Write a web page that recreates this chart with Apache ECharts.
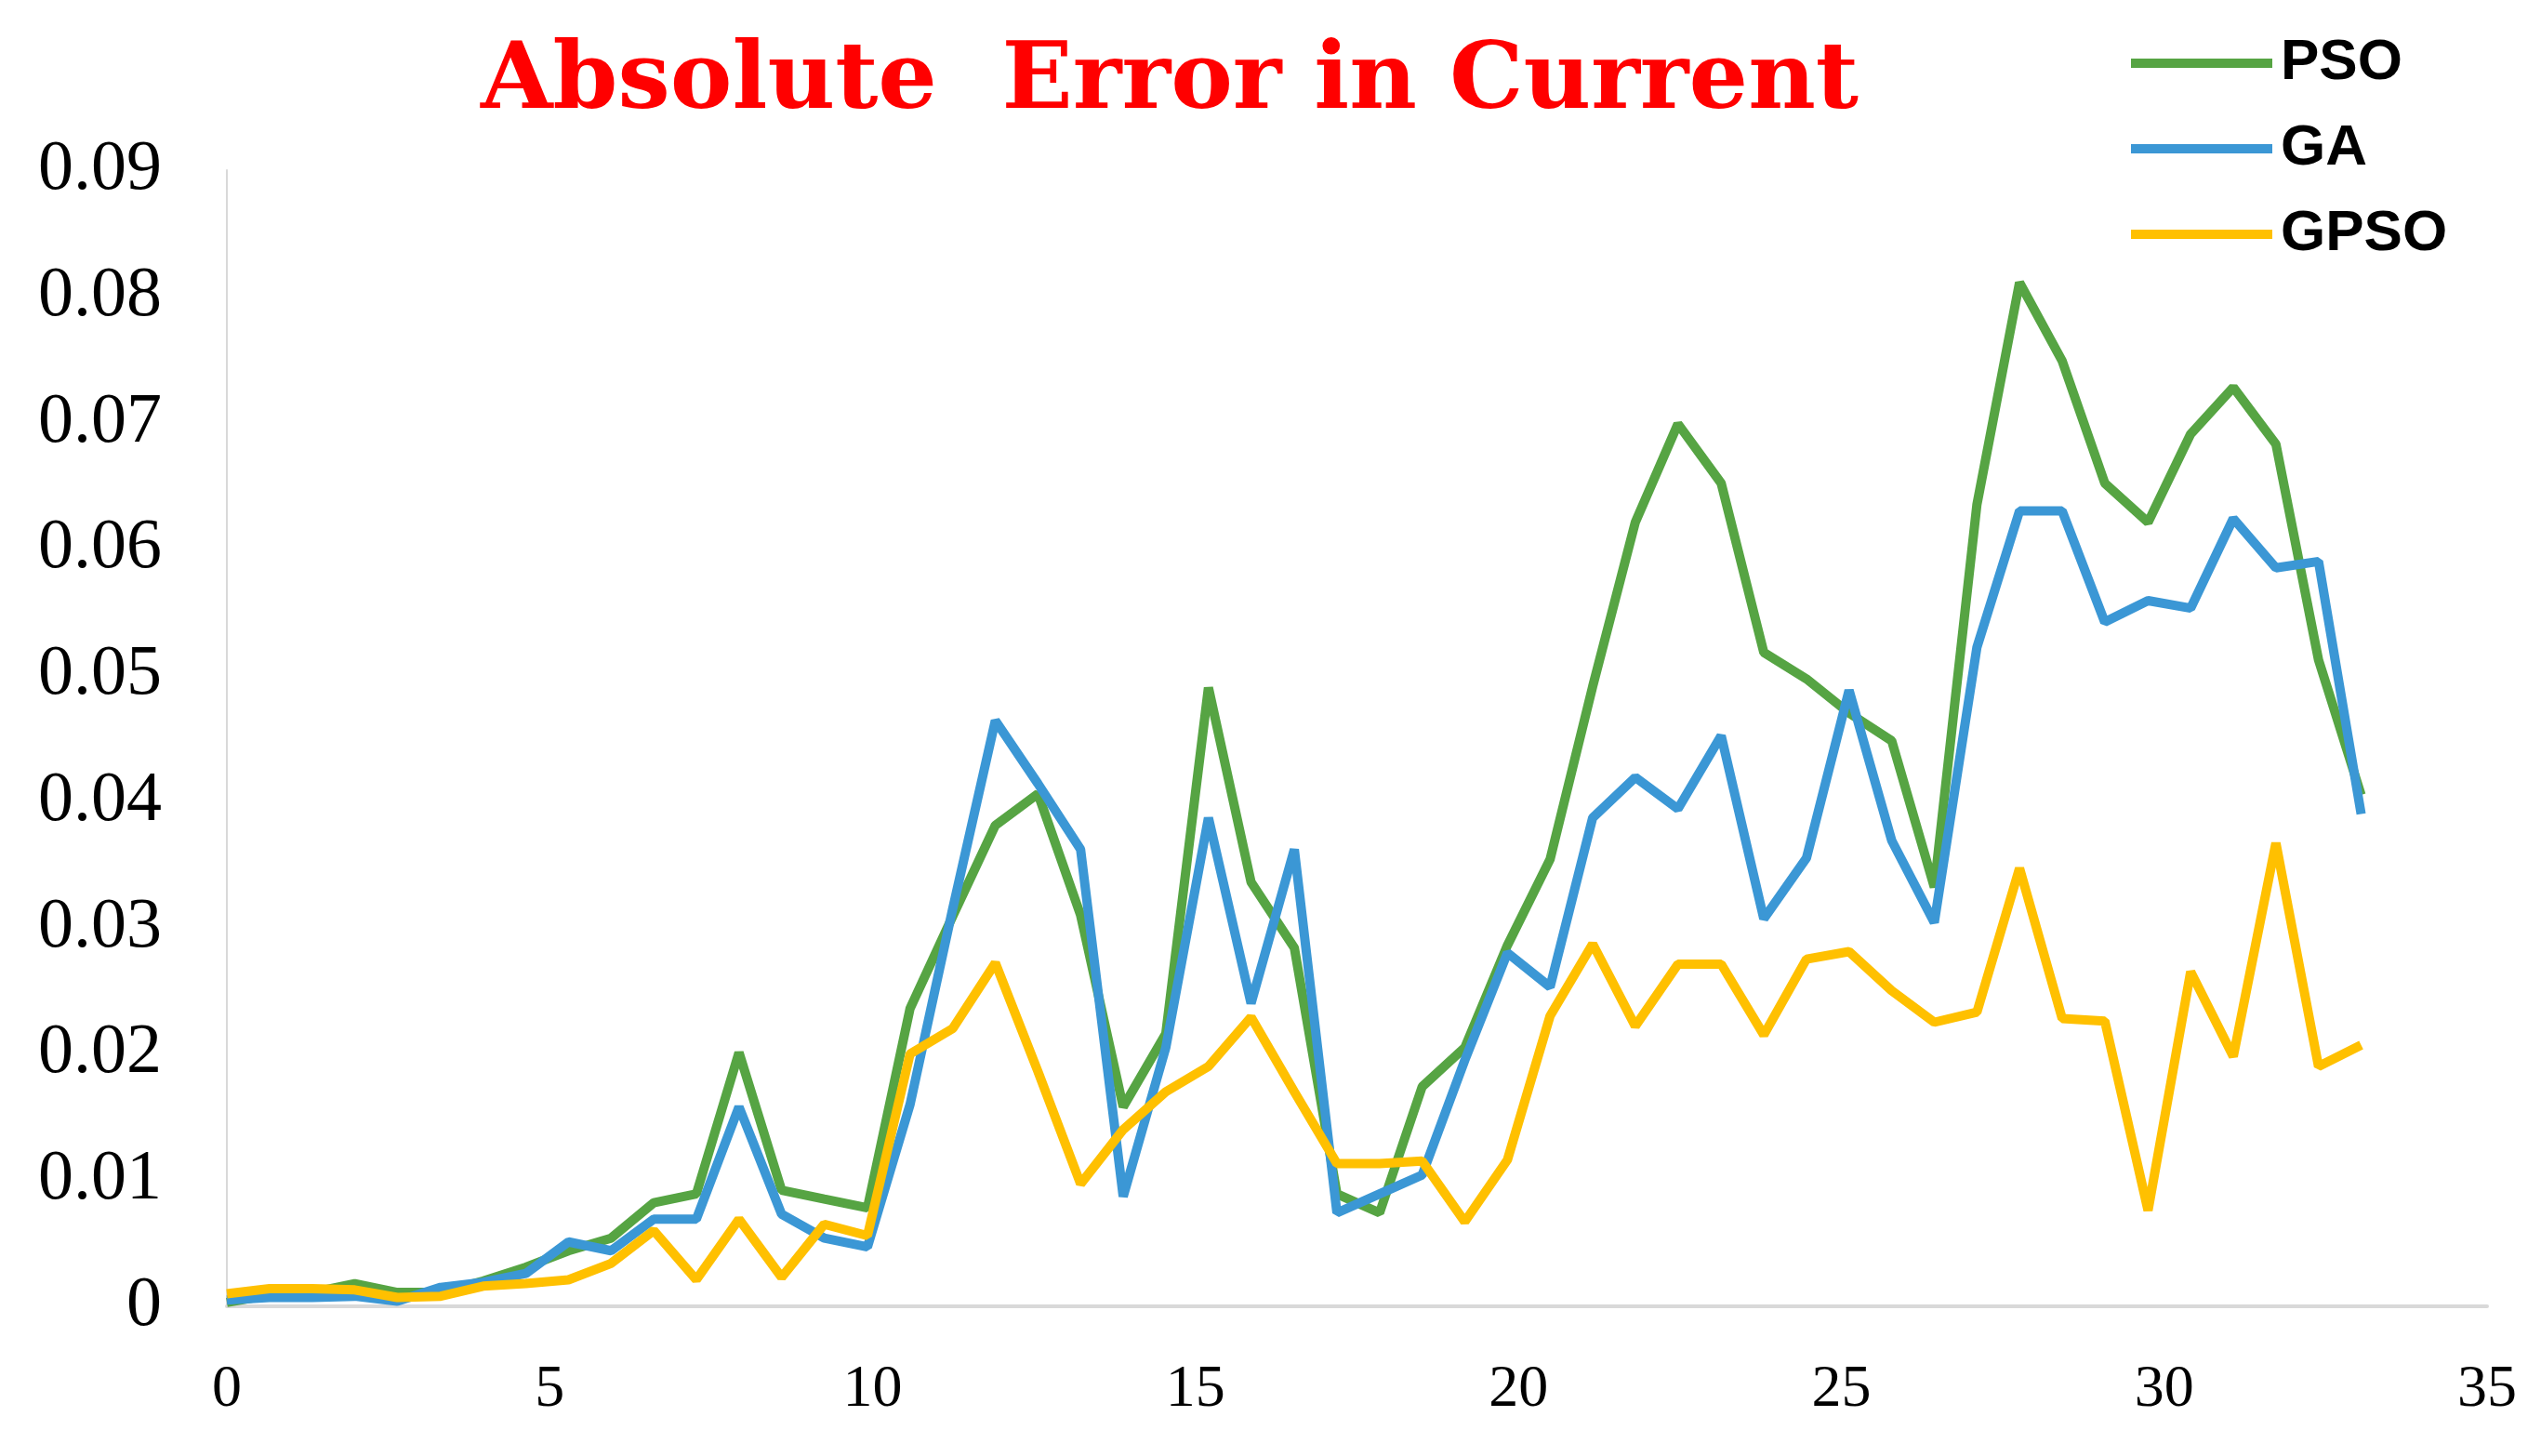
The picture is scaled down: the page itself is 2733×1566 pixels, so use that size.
<!DOCTYPE html>
<html>
<head>
<meta charset="utf-8">
<title>Absolute Error in Current</title>
<script src="https://cdn.jsdelivr.net/npm/echarts@6/dist/echarts.min.js"></script>
<style>
  html, body { margin: 0; padding: 0; background: #fff; }
  #main { width: 2733px; height: 1566px; }
</style>
</head>
<body>
<div id="main"></div>
<script>
var chartDom = document.getElementById('main');
var myChart = echarts.init(chartDom);
var option;

// sample positions along the x axis
var xVals = [0, 0.66, 1.32, 1.98, 2.64, 3.31, 3.97, 4.63, 5.29, 5.95,
  6.61, 7.27, 7.93, 8.59, 9.25, 9.92, 10.58, 11.24, 11.90, 12.56,
  13.22, 13.88, 14.54, 15.20, 15.86, 16.53, 17.19, 17.85, 18.51, 19.17,
  19.83, 20.49, 21.15, 21.81, 22.47, 23.14, 23.80, 24.46, 25.12, 25.78,
  26.44, 27.10, 27.76, 28.42, 29.08, 29.75, 30.41, 31.07, 31.73, 32.39, 33.05];

var pso = [0.0003, 0.0009, 0.0011, 0.0018, 0.0011, 0.0011, 0.0020, 0.0031, 0.0044, 0.0054,
  0.0082, 0.0089, 0.0201, 0.0092, 0.0085, 0.0078, 0.0236, 0.0309, 0.0381, 0.0406,
  0.0310, 0.0158, 0.0216, 0.0490, 0.0336, 0.0284, 0.0089, 0.0074, 0.0174, 0.0205,
  0.0286, 0.0354, 0.0491, 0.0621, 0.0699, 0.0652, 0.0518, 0.0497, 0.0470, 0.0448,
  0.0332, 0.0635, 0.0811, 0.0749, 0.0652, 0.0621, 0.0691, 0.0728, 0.0683, 0.0512, 0.0405];

var ga = [0.0005, 0.0007, 0.0007, 0.0008, 0.0004, 0.0015, 0.0019, 0.0026, 0.0051, 0.0044,
  0.0069, 0.0069, 0.0158, 0.0073, 0.0054, 0.0047, 0.0160, 0.0315, 0.0464, 0.0414,
  0.0362, 0.0087, 0.0205, 0.0387, 0.0240, 0.0362, 0.0074, 0.0089, 0.0104, 0.0195,
  0.0280, 0.0253, 0.0387, 0.0419, 0.0394, 0.0452, 0.0307, 0.0355, 0.0488, 0.0369,
  0.0304, 0.0522, 0.0630, 0.0630, 0.0542, 0.0559, 0.0553, 0.0624, 0.0585, 0.0590, 0.0390];

var gpso = [0.0010, 0.0014, 0.0014, 0.0013, 0.0007, 0.0008, 0.0016, 0.0018, 0.0021, 0.0034,
  0.0060, 0.0021, 0.0069, 0.0023, 0.0065, 0.0056, 0.0200, 0.0220, 0.0272, 0.0186,
  0.0097, 0.0140, 0.0170, 0.0190, 0.0229, 0.0170, 0.0113, 0.0113, 0.0115, 0.0067,
  0.0116, 0.0230, 0.0287, 0.0222, 0.0271, 0.0271, 0.0215, 0.0275, 0.0281, 0.0250,
  0.0225, 0.0233, 0.0347, 0.0228, 0.0226, 0.0076, 0.0265, 0.0198, 0.0367, 0.0190, 0.0207];

function pairs(ys) {
  return xVals.map(function (x, i) { return [x, ys[i]]; });
}

option = {
  backgroundColor: '#fff',
  animation: false,
  title: {
    text: 'Absolute  Error in Current',
    left: 1253,
    top: 35,
    textAlign: 'center',
    textStyle: {
      fontFamily: 'DejaVu Serif',
      fontWeight: 'bold',
      fontSize: 100,
      color: '#ff0000'
    }
  },
  legend: {
    orient: 'vertical',
    left: 2287,
    top: 32,
    icon: 'rect',
    itemWidth: 152,
    itemHeight: 10,
    itemGap: 30,
    textStyle: {
      fontFamily: 'Liberation Sans',
      fontWeight: 'bold',
      fontSize: 62,
      color: '#000',
      padding: [0, 0, 0, 4]
    },
    data: ['PSO', 'GA', 'GPSO']
  },
  grid: {
    left: 244,
    right: 58,
    top: 183,
    bottom: 161
  },
  xAxis: {
    type: 'value',
    min: 0,
    max: 35,
    interval: 5,
    axisLine: { lineStyle: { color: '#d9d9d9', width: 4 } },
    axisTick: { show: false },
    splitLine: { show: false },
    axisLabel: {
      margin: 58,
      fontFamily: 'Liberation Serif',
      fontSize: 64,
      color: '#000'
    }
  },
  yAxis: {
    type: 'value',
    min: 0,
    max: 0.09,
    interval: 0.01,
    axisLine: { show: true, lineStyle: { color: '#d9d9d9', width: 2 } },
    axisTick: { show: false },
    splitLine: { show: false },
    axisLabel: {
      margin: 70,
      fontFamily: 'Liberation Serif',
      fontSize: 76,
      color: '#000'
    }
  },
  series: [
    {
      name: 'PSO',
      type: 'line',
      data: pairs(pso),
      symbol: 'none',
      itemStyle: { color: '#56a443' },
      lineStyle: { color: '#56a443', width: 10 }
    },
    {
      name: 'GA',
      type: 'line',
      data: pairs(ga),
      symbol: 'none',
      itemStyle: { color: '#3b97d5' },
      lineStyle: { color: '#3b97d5', width: 10 }
    },
    {
      name: 'GPSO',
      type: 'line',
      data: pairs(gpso),
      symbol: 'none',
      itemStyle: { color: '#ffc000' },
      lineStyle: { color: '#ffc000', width: 10 }
    }
  ]
};

option && myChart.setOption(option);
</script>
</body>
</html>
